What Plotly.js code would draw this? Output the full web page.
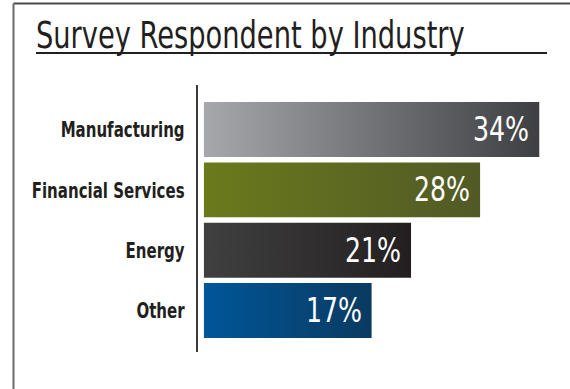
<!DOCTYPE html>
<html>
<head>
<meta charset="utf-8">
<script src="https://cdn.plot.ly/plotly-3.0.1.min.js"></script>
<style>
  html, body { margin: 0; padding: 0; background: #ffffff; }
  #chart { width: 570px; height: 389px; }
</style>
</head>
<body>
<div id="chart"></div>
<script>
// Share of survey respondents by industry (%)
const industries = ["Manufacturing", "Financial Services", "Energy", "Other"];
const shares = [34, 28, 21, 17];
const valueLabels = ["34%", "28%", "21%", "17%"];

// Left and right colour stops of each bar's horizontal gradient
const gradientStart = ["#a7a8ac", "#6b7a1c", "#404041", "#00569a"];
const gradientEnd   = ["#3e3f42", "#515926", "#231f20", "#0a3a60"];

const condensed = '"Liberation Sans Narrow", "Arial Narrow", "DejaVu Sans Condensed", sans-serif';

const trace = {
  type: "bar",
  orientation: "h",
  x: shares,
  y: industries,
  marker: { color: gradientStart, line: { width: 0 } },
  hoverinfo: "none"
};

// Value labels sit inside the end of each bar
const valueAnnotations = industries.map((name, i) => ({
  x: shares[i],
  y: name,
  xref: "x",
  yref: "y",
  text: valueLabels[i],
  showarrow: false,
  xanchor: "right",
  yanchor: "middle",
  xshift: -8,
  font: { family: condensed, size: 33, color: "#ffffff" }
}));

const layout = {
  width: 570,
  height: 389,
  paper_bgcolor: "#ffffff",
  plot_bgcolor: "#ffffff",
  margin: { l: 198, r: 12, t: 85, b: 37 },
  showlegend: false,
  bargap: 0.088,
  title: {
    text: "Survey Respondent by Industry",
    xref: "container",
    yref: "container",
    x: 36 / 570,
    xanchor: "left",
    y: 1 - 35 / 389,
    yanchor: "middle",
    font: { family: condensed, size: 37, color: "#231f20" }
  },
  xaxis: {
    range: [-0.6, 35.9],
    showgrid: false,
    zeroline: false,
    showline: false,
    showticklabels: false,
    ticks: "",
    fixedrange: true
  },
  yaxis: {
    type: "category",
    categoryorder: "array",
    categoryarray: industries,
    range: [3.69, -0.74],
    showgrid: false,
    zeroline: false,
    showline: true,
    linecolor: "#3a3a3a",
    linewidth: 2,
    ticks: "",
    ticklabelstandoff: 7,
    tickfont: { family: condensed, size: 22, color: "#231f20", weight: "bold" },
    fixedrange: true
  },
  annotations: valueAnnotations,
  shapes: [
    // frame: top and left edges
    { type: "line", xref: "paper", yref: "paper",
      x0: (13.5 - 198) / 360, x1: (575 - 198) / 360,
      y0: (352 - 3.5) / 267, y1: (352 - 3.5) / 267,
      line: { color: "#4a4a4a", width: 2 } },
    { type: "line", xref: "paper", yref: "paper",
      x0: (13.5 - 198) / 360, x1: (13.5 - 198) / 360,
      y0: (352 - 3.5) / 267, y1: (352 - 395) / 267,
      line: { color: "#6a6a6a", width: 2 } },
    // rule under the title
    { type: "line", xref: "paper", yref: "paper",
      x0: (36 - 198) / 360, x1: (547 - 198) / 360,
      y0: (352 - 53) / 267, y1: (352 - 53) / 267,
      line: { color: "#231f20", width: 2 } }
  ]
};

const ns = "http://www.w3.org/2000/svg";

// Narrow a text element horizontally about its left or right edge,
// giving the available sans a condensed look
function condense(textEl, factor, edge) {
  const svg = textEl.ownerSVGElement;
  const r = textEl.getBoundingClientRect();
  const pt = svg.createSVGPoint();
  pt.x = edge === "right" ? r.right : r.left;
  pt.y = r.top;
  const parent = textEl.parentNode;
  const p = pt.matrixTransform(parent.getScreenCTM().inverse());
  const g = document.createElementNS(ns, "g");
  g.setAttribute("transform",
    "translate(" + p.x + ",0) scale(" + factor + ",1) translate(" + (-p.x) + ",0)");
  parent.insertBefore(g, textEl);
  g.appendChild(textEl);
}

Plotly.newPlot("chart", [trace], layout, { staticPlot: true, displayModeBar: false })
  .then(gd => {
    // Give each bar a left-to-right gradient fill
    const svg = gd.querySelector(".main-svg");
    let defs = svg.querySelector("defs");
    if (!defs) { defs = document.createElementNS(ns, "defs"); svg.insertBefore(defs, svg.firstChild); }
    gradientStart.forEach((c0, i) => {
      const g = document.createElementNS(ns, "linearGradient");
      g.setAttribute("id", "barGrad" + i);
      g.setAttribute("x1", "0"); g.setAttribute("y1", "0");
      g.setAttribute("x2", "1"); g.setAttribute("y2", "0");
      [[0, c0], [1, gradientEnd[i]]].forEach(([off, col]) => {
        const s = document.createElementNS(ns, "stop");
        s.setAttribute("offset", off);
        s.setAttribute("stop-color", col);
        g.appendChild(s);
      });
      defs.appendChild(g);
    });
    gd.querySelectorAll(".barlayer .point path").forEach((p, i) => {
      p.style.fill = "url(#barGrad" + i + ")";
    });

    // Condensed lettering for title, category labels and values
    gd.querySelectorAll(".g-gtitle text").forEach(t => condense(t, 0.82, "left"));
    gd.querySelectorAll(".ytick text").forEach(t => condense(t, 0.76, "right"));
    gd.querySelectorAll(".annotation-text-g text").forEach(t => condense(t, 0.85, "right"));
  });
</script>
</body>
</html>
